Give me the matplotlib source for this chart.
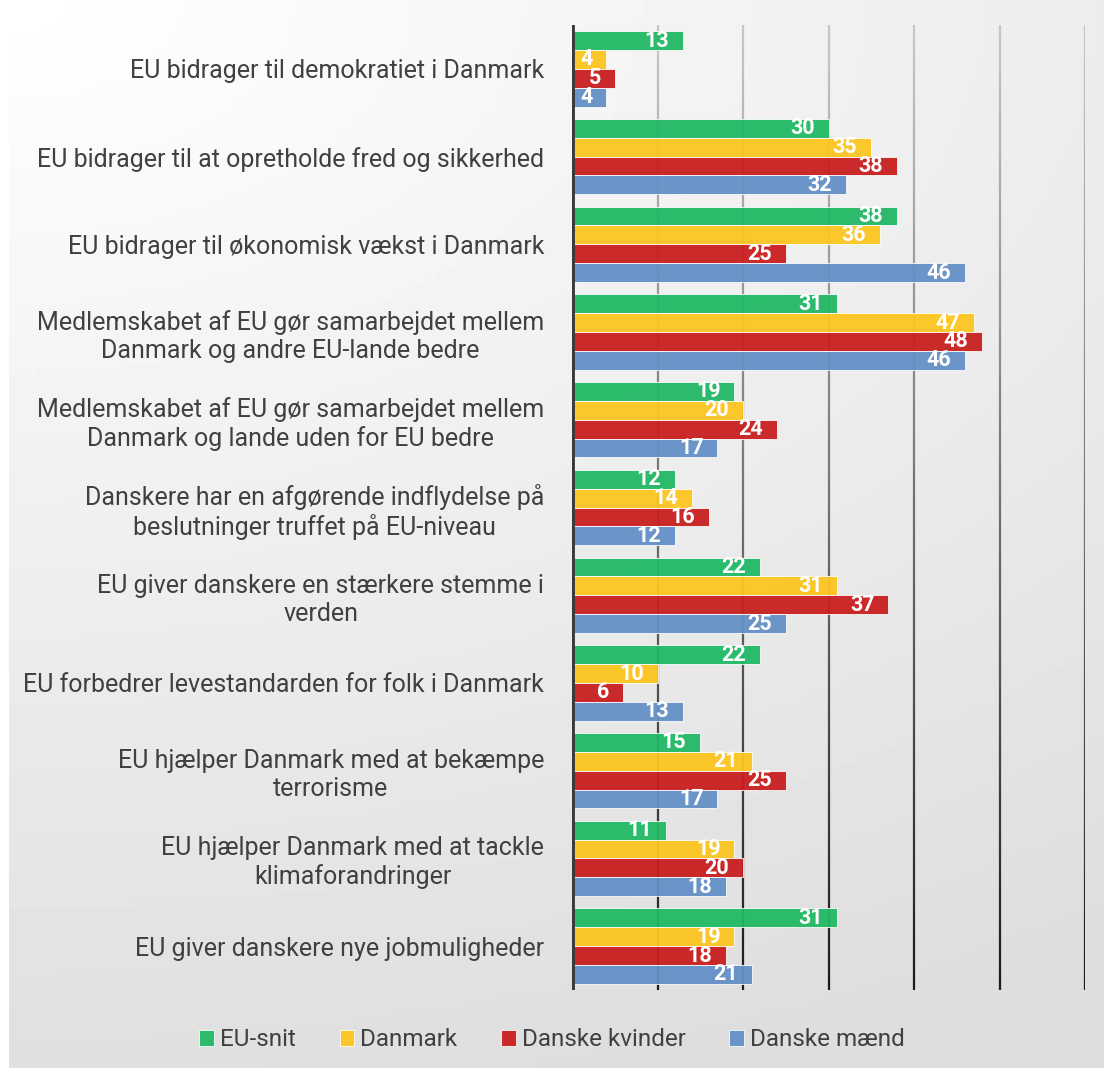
import numpy as np
import matplotlib.pyplot as plt
from matplotlib.collections import LineCollection

categories = [
    'EU bidrager til demokratiet i Danmark',
    'EU bidrager til at opretholde fred og sikkerhed',
    'EU bidrager til økonomisk vækst i Danmark',
    'Medlemskabet af EU gør samarbejdet mellem\nDanmark og andre EU-lande bedre',
    'Medlemskabet af EU gør samarbejdet mellem\nDanmark og lande uden for EU bedre',
    'Danskere har en afgørende indflydelse på\nbeslutninger truffet på EU-niveau',
    'EU giver danskere en stærkere stemme i\nverden',
    'EU forbedrer levestandarden for folk i Danmark',
    'EU hjælper Danmark med at bekæmpe\nterrorisme',
    'EU hjælper Danmark med at tackle\nklimaforandringer',
    'EU giver danskere nye jobmuligheder',
]
series_names = ['EU-snit', 'Danmark', 'Danske kvinder', 'Danske mænd']
eu_snit = [13, 30, 38, 31, 19, 12, 22, 22, 15, 11, 31]
danmark = [4, 35, 36, 47, 20, 14, 31, 10, 21, 19, 19]
kvinder = [5, 38, 25, 48, 24, 16, 37, 6, 25, 20, 18]
maend = [4, 32, 46, 46, 17, 12, 25, 13, 17, 18, 21]
colors = ['#22b865', '#fdc520', '#c8201f', '#6490c6']

W, H = 1104, 1072
fig = plt.figure(figsize=(W / 100, H / 100), dpi=100)

# background gradient
bg = fig.add_axes([9 / W, 4 / H, 1 - 9 / W, 1 - 4 / H])
xx, yy = np.meshgrid(np.linspace(0, 1, 200), np.linspace(0, 1, 200))
d = np.clip(np.sqrt((xx * 0.6) ** 2 + yy ** 2) / 1.05, 0, 1)
bg.imshow(1 - d * 0.13, cmap='gray', vmin=0, vmax=1, aspect='auto',
          extent=[0, 1, 1, 0])
bg.axis('off')

left, right = 572 / W, 1085 / W
top, bottom = 1 - 25 / H, 1 - 990 / H
ax = fig.add_axes([left, bottom, right - left, top - bottom])
ax.patch.set_alpha(0)

n = len(categories)
bh = 0.215
offsets = np.array([-1.5, -0.5, 0.5, 1.5]) * bh
y = np.arange(n)
data = [eu_snit, danmark, kvinder, maend]

# gridlines with gradient colour
segs, cols = [], []
ys = np.linspace(-0.5, n - 0.5, 120)
for gx in [10, 20, 30, 40, 50, 60]:
    for i in range(len(ys) - 1):
        segs.append([(gx, ys[i]), (gx, ys[i + 1])])
        t = (ys[i] + 0.5) / n
        g = 0.78 - 0.68 * t
        cols.append((g, g, g))
ax.add_collection(LineCollection(segs, colors=cols, linewidths=1.6, zorder=1))
ax.axvline(0, color='#3a3a3a', lw=3.5, zorder=4)

for vals, off, c, name in zip(data, offsets, colors, series_names):
    ax.barh(y + off, vals, height=bh, color=c, edgecolor='#ffffff',
            linewidth=0.6, alpha=0.95, label=name, zorder=2)
    for v, yy_ in zip(vals, y + off):
        ax.annotate(str(v), (v, yy_), xytext=(-10, 0), textcoords='offset points',
                    ha='right', va='center', color='white', fontsize=15.5,
                    fontweight='bold', family='Roboto', zorder=5)

ax.set_xlim(0, 60)
ax.set_ylim(n - 0.5, -0.5)
ax.set_yticks(y)
ax.set_yticklabels(categories, fontsize=18, color='#404040', family='Roboto',
                   multialignment='center', linespacing=1.2)
ax.tick_params(axis='y', length=0, pad=20)
ax.set_xticks([])
for s in ax.spines.values():
    s.set_visible(False)

leg = fig.legend(loc='center', bbox_to_anchor=(0.5, 1 - 1040 / H), ncol=4,
                 frameon=False, handlelength=0.6, handleheight=0.6,
                 handletextpad=0.25, columnspacing=1.8,
                 prop={'family': 'Roboto', 'size': 17.5})
for t in leg.get_texts():
    t.set_color('#404040')

fig.savefig('out.png', dpi=100)
